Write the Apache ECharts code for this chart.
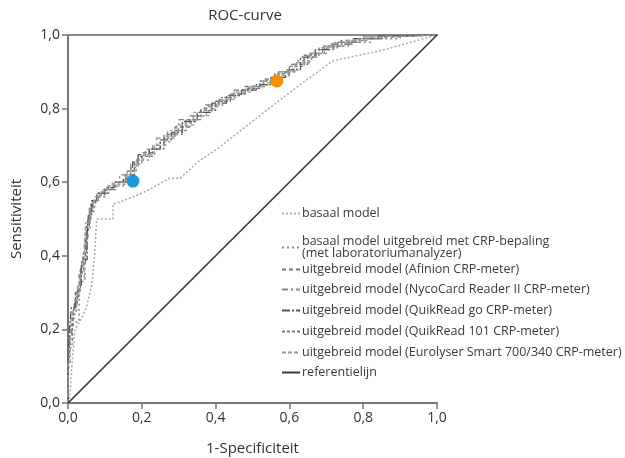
<!DOCTYPE html>
<html>
<head>
<meta charset="utf-8">
<script src="https://cdn.jsdelivr.net/npm/echarts@6/dist/echarts.min.js"></script>
<style>
  html, body { margin: 0; padding: 0; background: #fff; }
  #chart { width: 625px; height: 458px; }
</style>
</head>
<body>
<div id="chart"></div>
<script>
// ROC-curve, waarden
var tickLabels = ['0,0', '0,2', '0,4', '0,6', '0,8', '1,0'];

var basaal = [[0,0],[0.005,0.02],[0.012,0.12],[0.019,0.2],[0.037,0.23],[0.05,0.26],[0.064,0.32],[0.072,0.4],[0.076,0.47],[0.078,0.5],[0.122,0.5],[0.122,0.54],[0.141,0.546],[0.203,0.571],[0.276,0.611],[0.304,0.611],[0.358,0.66],[0.404,0.69],[0.493,0.76],[0.583,0.83],[0.629,0.865],[0.718,0.93],[0.846,0.957],[1,1]];

var basaalCrp = [[0,0],[0.005,0.06],[0.011,0.15],[0.016,0.2],[0.03,0.22],[0.035,0.3],[0.046,0.33],[0.05,0.42],[0.06,0.47],[0.07,0.52],[0.085,0.55],[0.1,0.56],[0.12,0.58],[0.15,0.59],[0.17,0.61],[0.19,0.64],[0.22,0.66],[0.25,0.69],[0.28,0.71],[0.31,0.73],[0.34,0.76],[0.38,0.78],[0.42,0.81],[0.46,0.83],[0.5,0.85],[0.54,0.86],[0.58,0.88],[0.62,0.9],[0.66,0.93],[0.7,0.95],[0.76,0.97],[0.82,0.98],[0.9,0.99],[1,1]];

var afinion = [[0,0],[0.003,0.09],[0.008,0.16],[0.014,0.21],[0.022,0.26],[0.03,0.29],[0.038,0.35],[0.047,0.38],[0.054,0.45],[0.062,0.5],[0.075,0.54],[0.09,0.56],[0.11,0.57],[0.13,0.59],[0.16,0.6],[0.18,0.63],[0.2,0.66],[0.23,0.68],[0.26,0.7],[0.29,0.73],[0.33,0.75],[0.36,0.78],[0.4,0.8],[0.44,0.82],[0.48,0.84],[0.53,0.86],[0.57,0.88],[0.61,0.9],[0.65,0.92],[0.69,0.95],[0.74,0.97],[0.8,0.985],[0.88,0.995],[1,1]];

var nycocard = [[0,0],[0.004,0.12],[0.01,0.18],[0.018,0.23],[0.026,0.28],[0.034,0.31],[0.04,0.37],[0.05,0.4],[0.057,0.47],[0.066,0.52],[0.08,0.55],[0.095,0.57],[0.12,0.58],[0.14,0.6],[0.17,0.62],[0.19,0.65],[0.21,0.67],[0.24,0.69],[0.27,0.72],[0.3,0.74],[0.34,0.77],[0.37,0.79],[0.41,0.81],[0.45,0.83],[0.49,0.85],[0.52,0.86],[0.56,0.87],[0.6,0.89],[0.64,0.92],[0.68,0.94],[0.72,0.96],[0.79,0.98],[0.86,0.99],[1,1]];

var quikreadGo = [[0,0],[0.004,0.13],[0.009,0.2],[0.02,0.26],[0.027,0.3],[0.036,0.32],[0.04,0.38],[0.052,0.39],[0.055,0.46],[0.064,0.51],[0.078,0.55],[0.1,0.57],[0.125,0.585],[0.15,0.6],[0.175,0.61],[0.19,0.655],[0.22,0.675],[0.25,0.69],[0.28,0.715],[0.31,0.735],[0.35,0.765],[0.39,0.79],[0.43,0.815],[0.47,0.835],[0.51,0.85],[0.55,0.865],[0.59,0.885],[0.63,0.905],[0.67,0.94],[0.71,0.96],[0.77,0.975],[0.84,0.99],[0.92,0.998],[1,1]];

var quikread101 = [[0,0],[0.005,0.1],[0.012,0.17],[0.017,0.22],[0.025,0.27],[0.033,0.3],[0.042,0.36],[0.05,0.41],[0.058,0.48],[0.068,0.53],[0.082,0.55],[0.1,0.565],[0.13,0.58],[0.155,0.595],[0.18,0.62],[0.2,0.65],[0.23,0.67],[0.26,0.69],[0.29,0.72],[0.32,0.74],[0.36,0.77],[0.4,0.795],[0.44,0.82],[0.48,0.84],[0.52,0.855],[0.56,0.875],[0.6,0.895],[0.64,0.915],[0.68,0.945],[0.73,0.965],[0.78,0.98],[0.85,0.99],[1,1]];

var eurolyser = [[0,0],[0.006,0.11],[0.01,0.19],[0.015,0.23],[0.024,0.25],[0.032,0.31],[0.044,0.34],[0.048,0.43],[0.06,0.49],[0.072,0.53],[0.088,0.56],[0.105,0.575],[0.125,0.59],[0.16,0.6],[0.185,0.63],[0.205,0.66],[0.235,0.675],[0.265,0.7],[0.295,0.725],[0.34,0.755],[0.375,0.78],[0.41,0.805],[0.45,0.825],[0.495,0.845],[0.53,0.86],[0.57,0.88],[0.615,0.9],[0.655,0.925],[0.695,0.95],[0.75,0.97],[0.81,0.985],[0.89,0.995],[1,1]];

var referentie = [[0,0],[1,1]];

var puntBlauw = [[0.176,0.603]];
var puntOranje = [[0.566,0.875]];

var names = [
  'basaal model',
  'basaal model uitgebreid met CRP-bepaling\n(met laboratoriumanalyzer)',
  'uitgebreid model (Afinion CRP-meter)',
  'uitgebreid model (NycoCard Reader II CRP-meter)',
  'uitgebreid model (QuikRead go CRP-meter)',
  'uitgebreid model (QuikRead 101 CRP-meter)',
  'uitgebreid model (Eurolyser Smart 700/340 CRP-meter)',
  'referentielijn'
];
var legendTops = [207, 235, 263, 283, 304, 325, 346, 366];

var FONT = '"Open Sans", "Noto Sans", sans-serif';

function fmt(v) {
  return tickLabels[Math.round(v * 5)];
}

function lineSeries(name, data, color, type, width, step) {
  return {
    name: name,
    type: 'line',
    data: data,
    step: step ? 'start' : false,
    symbol: 'none',
    silent: true,
    lineStyle: { color: color, type: type, width: width },
    itemStyle: { color: color }
  };
}

var chart = echarts.init(document.getElementById('chart'), null, { renderer: 'canvas' });

var legends = names.map(function (n, i) {
  return {
    data: [n],
    left: 281,
    top: legendTops[i],
    padding: 0,
    orient: 'vertical',
    itemWidth: 18,
    itemHeight: 10,
    itemGap: 0,
    selectedMode: false,
    itemStyle: { opacity: 0 },
    textStyle: { fontFamily: FONT, fontSize: 12.5, color: '#3a3a3a', lineHeight: 12, padding: [0, 0, 0, -3] }
  };
});

chart.setOption({
  animation: false,
  title: {
    text: 'ROC-curve',
    left: 245,
    textAlign: 'center',
    top: 8,
    padding: 0,
    textStyle: { fontFamily: FONT, fontSize: 15, fontWeight: 'normal', color: '#333' }
  },
  legend: legends,
  grid: { left: 68, right: 188, top: 35, bottom: 55, outerBoundsMode: 'none' },
  xAxis: [{
    type: 'value', min: 0, max: 1, interval: 0.2,
    name: '1-Specificiteit', nameLocation: 'middle', nameGap: 38,
    nameTextStyle: { fontFamily: FONT, fontSize: 15, color: '#333' },
    axisLine: { lineStyle: { color: '#777', width: 2 } },
    axisTick: { length: 6, lineStyle: { color: '#777', width: 1.5 } },
    axisLabel: { formatter: fmt, fontFamily: FONT, fontSize: 14, color: '#333', margin: 8 },
    splitLine: { show: false }
  }, {
    type: 'value', min: 0, max: 1, position: 'top',
    axisLine: { lineStyle: { color: '#888', width: 2 } },
    axisTick: { show: false }, axisLabel: { show: false }, splitLine: { show: false }
  }],
  yAxis: {
    type: 'value', min: 0, max: 1, interval: 0.2,
    name: 'Sensitiviteit', nameLocation: 'middle', nameGap: 44,
    nameTextStyle: { fontFamily: FONT, fontSize: 15, color: '#333' },
    axisLine: { lineStyle: { color: '#777', width: 2 } },
    axisTick: { length: 6, lineStyle: { color: '#777', width: 1.5 } },
    axisLabel: { formatter: fmt, fontFamily: FONT, fontSize: 14, color: '#333', margin: 8 },
    splitLine: { show: false }
  },
  series: [
    lineSeries(names[0], basaal, '#aaa', [2, 2], 1.5, false),
    lineSeries(names[1], basaalCrp, '#8a8a8a', [2, 3], 1.5, true),
    lineSeries(names[2], afinion, '#777', [4, 3], 1.3, true),
    lineSeries(names[3], nycocard, '#888', [6, 3, 2, 3], 1.3, true),
    lineSeries(names[4], quikreadGo, '#555', [8, 2, 2, 2], 1.3, true),
    lineSeries(names[5], quikread101, '#777', [3, 2], 1.3, true),
    lineSeries(names[6], eurolyser, '#999', [4, 2], 1.3, true),
    lineSeries(names[7], referentie, '#3a3a3a', 'solid', 1.7, false),
    {
      type: 'scatter', data: puntBlauw, symbolSize: 13, silent: true,
      itemStyle: { color: '#1a9ad6', opacity: 1 }, z: 5
    },
    {
      type: 'scatter', data: puntOranje, symbolSize: 13, silent: true,
      itemStyle: { color: '#f39200', opacity: 1 }, z: 5
    }
  ]
});
</script>
</body>
</html>
